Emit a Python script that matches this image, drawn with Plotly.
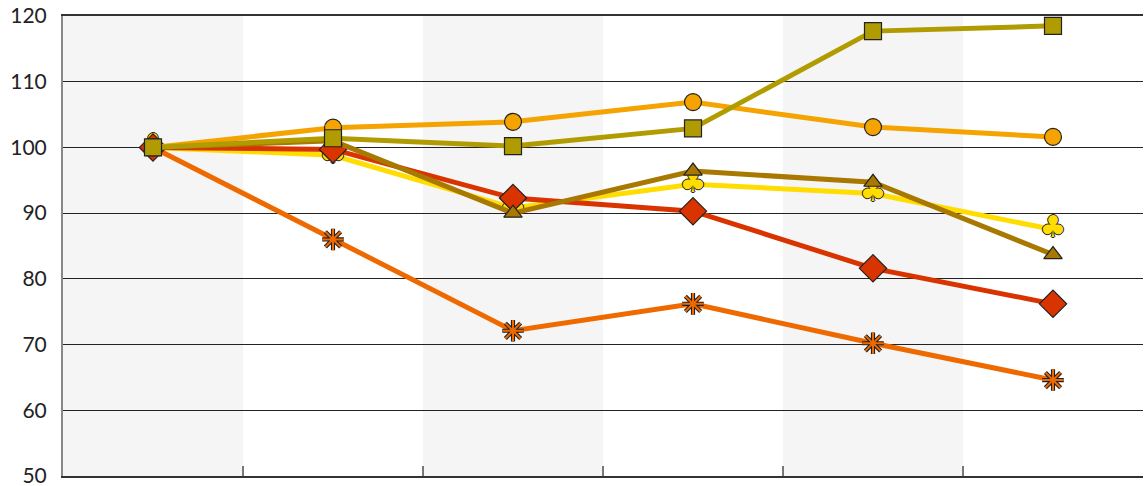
import plotly.graph_objects as go

categories = ["1", "2", "3", "4", "5", "6"]

circle_vals = [100, 103.0, 103.9, 106.9, 103.1, 101.6]
square_vals = [100, 101.4, 100.2, 102.9, 117.7, 118.5]
club_vals = [100, 98.8, 90.8, 94.4, 93.0, 87.5]
triangle_vals = [100, 101.0, 90.0, 96.4, 94.7, 83.7]
diamond_vals = [100, 99.7, 92.3, 90.3, 81.6, 76.2]
asterisk_vals = [100, 86.0, 72.1, 76.2, 70.2, 64.6]

y_ticks = [50, 60, 70, 80, 90, 100, 110, 120]

c_circle = "#F5A300"
c_square = "#B09C00"
c_club = "#FFDD00"
c_triangle = "#A87800"
c_diamond = "#D93300"
c_asterisk = "#EE6A00"

fig = go.Figure()

LW = 5

# asterisk series
fig.add_trace(go.Scatter(x=categories, y=asterisk_vals, mode="lines",
                         line=dict(color=c_asterisk, width=LW), showlegend=False, hoverinfo="skip"))
fig.add_trace(go.Scatter(x=categories, y=asterisk_vals, mode="markers",
                         marker=dict(symbol="asterisk-open", size=18, color="#222222",
                                     line=dict(width=4.2, color="#222222")), showlegend=False))
fig.add_trace(go.Scatter(x=categories, y=asterisk_vals, mode="markers",
                         marker=dict(symbol="asterisk-open", size=18, color=c_asterisk,
                                     line=dict(width=2, color=c_asterisk)), showlegend=False))

# club series
fig.add_trace(go.Scatter(x=categories, y=club_vals, mode="lines",
                         line=dict(color=c_club, width=LW), showlegend=False, hoverinfo="skip"))
fig.add_trace(go.Scatter(x=categories, y=club_vals, mode="text", text=["\u2663"] * len(club_vals),
                         textposition="middle center",
                         textfont=dict(family="DejaVu Sans", size=30, color=c_club,
                                       shadow="1px 0 0 #222, -1px 0 0 #222, 0 1px 0 #222, 0 -1px 0 #222"),
                         showlegend=False))

# diamond series
fig.add_trace(go.Scatter(x=categories, y=diamond_vals, mode="lines+markers",
                         line=dict(color=c_diamond, width=LW),
                         marker=dict(symbol="diamond", size=21, color=c_diamond,
                                     line=dict(width=1.2, color="#222222")), showlegend=False))

# triangle series
fig.add_trace(go.Scatter(x=categories, y=triangle_vals, mode="lines+markers",
                         line=dict(color=c_triangle, width=LW),
                         marker=dict(symbol="triangle-up", size=16, color=c_triangle,
                                     line=dict(width=1.2, color="#222222")), showlegend=False))

# circle series
fig.add_trace(go.Scatter(x=categories, y=circle_vals, mode="lines+markers",
                         line=dict(color=c_circle, width=LW),
                         marker=dict(symbol="circle", size=17, color=c_circle,
                                     line=dict(width=1.2, color="#222222")), showlegend=False))

# square series
fig.add_trace(go.Scatter(x=categories, y=square_vals, mode="lines+markers",
                         line=dict(color=c_square, width=LW),
                         marker=dict(symbol="square", size=17, color=c_square,
                                     line=dict(width=1.2, color="#222222")), showlegend=False))

shapes = []
for i in range(0, len(categories), 2):
    shapes.append(dict(type="rect", xref="x", yref="paper", x0=i - 0.5, x1=i + 0.5, y0=0, y1=1,
                       fillcolor="#F5F5F5", line=dict(width=0), layer="below"))

fig.update_layout(
    width=1146, height=486,
    margin=dict(l=63, r=3, t=16, b=10),
    plot_bgcolor="white", paper_bgcolor="white",
    shapes=shapes,
    font=dict(family="Lato", size=21, color="#222222"),
    xaxis=dict(type="category", range=[-0.5, 5.5], showticklabels=False, automargin=False,
               tickson="boundaries", ticks="inside", ticklen=10, tickcolor="#777777", tickwidth=1.5,
               showgrid=False, showline=True, linecolor="#333333", linewidth=1.5, zeroline=False,
               mirror=True),
    yaxis=dict(range=[50, 120], tickvals=y_ticks, ticks="", showgrid=True, gridcolor="#222222",
               gridwidth=1, showline=True, linecolor="#888888", linewidth=2, zeroline=False,
               ticklabelstandoff=10, ticklabeloverflow="allow", automargin=False),
)

fig.write_html("out.html", config={"displayModeBar": False},
               post_script="document.body.style.margin='0';document.body.style.overflow='hidden';")
